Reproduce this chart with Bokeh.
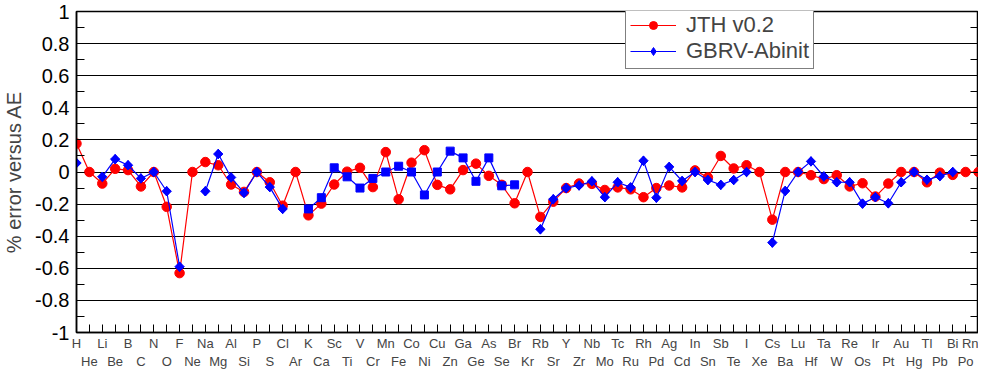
import numpy as np
from bokeh.plotting import figure
from bokeh.models import (Range1d, LinearAxis, FixedTicker, CustomJSTickFormatter,
                          Legend, LegendItem, ColumnDataSource)
from bokeh.embed import file_html
from bokeh.resources import INLINE

nan = float("nan")

elements = ["H", "He", "Li", "Be", "B", "C", "N", "O", "F", "Ne",
            "Na", "Mg", "Al", "Si", "P", "S", "Cl", "Ar",
            "K", "Ca", "Sc", "Ti", "V", "Cr", "Mn", "Fe", "Co", "Ni", "Cu", "Zn",
            "Ga", "Ge", "As", "Se", "Br", "Kr",
            "Rb", "Sr", "Y", "Zr", "Nb", "Mo", "Tc", "Ru", "Rh", "Pd", "Ag", "Cd",
            "In", "Sn", "Sb", "Te", "I", "Xe",
            "Cs", "Ba", "Lu", "Hf", "Ta", "W", "Re", "Os", "Ir", "Pt", "Au", "Hg",
            "Tl", "Pb", "Bi", "Po", "Rn"]

jth_v02 = [0.177, 0.0, -0.072, 0.02, 0.012, -0.09, 0.0, -0.217, -0.63, 0.0,
           0.062, 0.042, -0.078, -0.124, 0.0, -0.064, -0.21, 0.0,
           -0.27, -0.197, -0.078, 0.002, 0.026, -0.094, 0.124, -0.17, 0.058, 0.136, -0.08, -0.108,
           0.012, 0.052, -0.024, -0.08, -0.195, 0.0,
           -0.28, -0.185, -0.1, -0.072, -0.074, -0.112, -0.096, -0.108, -0.157, -0.1, -0.084, -0.096,
           0.01, -0.034, 0.1, 0.022, 0.042, 0.0,
           -0.297, 0.0, 0.0, -0.02, -0.044, -0.02, -0.09, -0.07, -0.153, -0.072, 0.0, 0.0,
           -0.064, -0.004, -0.018, 0.0, 0.0]

gbrv_abinit = [0.056, nan, -0.03, 0.08, 0.042, -0.04, 0.0, -0.12, -0.59, nan,
               -0.12, 0.112, -0.034, -0.13, 0.0, -0.094, -0.23, nan,
               -0.23, -0.16, 0.026, -0.03, -0.1, -0.04, 0.0, 0.036, 0.0, -0.143, 0.0, 0.13,
               0.088, -0.058, 0.088, -0.086, -0.08, nan,
               -0.357, -0.17, -0.1, -0.084, -0.058, -0.157, -0.064, -0.096, 0.07, -0.16, 0.032, -0.056,
               0.0, -0.05, -0.08, -0.05, 0.0, nan,
               -0.44, -0.118, 0.0, 0.066, -0.028, -0.064, -0.064, -0.197, -0.157, -0.195, -0.064, 0.0,
               -0.048, -0.026, 0.0, nan, nan]

# GBRV points drawn with square markers (the rest use diamonds)
gbrv_square_elements = ["K", "Ca", "Sc", "Ti", "V", "Cr", "Mn", "Fe", "Co", "Ni",
                        "Cu", "Zn", "Ga", "Ge", "As", "Se", "Br"]

y_ticks = [-1.0, -0.8, -0.6, -0.4, -0.2, 0.0, 0.2, 0.4, 0.6, 0.8, 1.0]
y_minor = [-0.9, -0.7, -0.5, -0.3, -0.1, 0.1, 0.3, 0.5, 0.7, 0.9]

FONT = "Liberation Sans"

idx = list(range(1, len(elements) + 1))
src_j = ColumnDataSource(dict(x=idx, y=jth_v02))
src_g = ColumnDataSource(dict(x=idx, y=np.array(gbrv_abinit, dtype=float)))
sq = [i for i, e in zip(idx, elements) if e in gbrv_square_elements]
sq_y = [v for v, e in zip(gbrv_abinit, elements) if e in gbrv_square_elements]
dm = [i for i, e, v in zip(idx, elements, gbrv_abinit) if e not in gbrv_square_elements and not np.isnan(v)]
dm_y = [v for e, v in zip(elements, gbrv_abinit) if e not in gbrv_square_elements and not np.isnan(v)]

p = figure(width=978, height=372, output_backend="svg", toolbar_location=None,
           x_range=Range1d(1, len(elements)), y_range=Range1d(-1, 1),
           min_border_left=73, min_border_right=0, min_border_top=11, min_border_bottom=30)
p.background_fill_color = "white"
p.border_fill_color = "white"
p.outline_line_color = "black"
p.outline_line_width = 1.5
p.xgrid.visible = False

yticker = FixedTicker(ticks=y_ticks, minor_ticks=y_minor)
p.ygrid.ticker = yticker
p.ygrid.grid_line_color = "black"
p.ygrid.grid_line_width = 1.2

# y axis
ya = p.yaxis[0]
ya.ticker = yticker
ya.formatter = CustomJSTickFormatter(code="return (Math.round(tick*10)/10).toString();")
ya.major_tick_in = 8
ya.major_tick_out = 0
ya.minor_tick_in = 8
ya.minor_tick_out = 0
ya.axis_line_width = 1.5
ya.major_label_text_font = FONT
ya.major_label_text_font_size = "20px"
ya.major_label_text_color = "black"
ya.major_label_standoff = 7
ya.axis_label = "% error versus AE"
ya.axis_label_text_font = FONT
ya.axis_label_text_font_size = "20px"
ya.axis_label_text_font_style = "normal"
ya.axis_label_standoff = 7

# right axis (ticks only)
ra = LinearAxis(ticker=yticker, major_tick_in=8, major_tick_out=0, minor_tick_in=8,
                minor_tick_out=0, axis_line_width=1.5,
                formatter=CustomJSTickFormatter(code="return '';"),
                major_label_text_font_size="1px",
                major_label_text_color=None, major_label_standoff=0)
p.add_layout(ra, "right")

# x axis: ticks at every element, odd labels on first row, even labels on second row
names_js = "const i = Math.round(tick); return (i % 2 === 1) ? names[i-1] : '\\n' + names[i-1];"
xa = p.xaxis[0]
xa.ticker = FixedTicker(ticks=idx, minor_ticks=[])
xa.formatter = CustomJSTickFormatter(args=dict(names=elements), code=names_js)
xa.major_tick_in = 8
xa.major_tick_out = 0
xa.minor_tick_in = 0
xa.minor_tick_out = 0
xa.axis_line_width = 1.5
xa.major_label_text_font = FONT
xa.major_label_text_font_size = "13px"
xa.major_label_text_line_height = 1.25
xa.major_label_standoff = 3

# JTH series
rl = p.line("x", "y", source=src_j, line_color="#ff0000", line_width=1.2)
rs = p.scatter("x", "y", source=src_j, marker="circle", size=9.5,
               fill_color="#ff0000", line_color="#ff0000")

# GBRV series
bl = p.line("x", "y", source=src_g, line_color="#0000ff", line_width=1.2)
bleg = p.scatter(dm, dm_y, marker="diamond", size=9.5,
                 fill_color="#0000ff", line_color="#0000ff")
bd = p.scatter(dm, dm_y, marker="square", angle=np.pi / 4, size=6.6,
               fill_color="#0000ff", line_color="#0000ff")
bs = p.scatter(sq, sq_y, marker="square", size=8,
               fill_color="#0000ff", line_color="#0000ff")

legend = Legend(items=[LegendItem(label="JTH v0.2", renderers=[rl, rs]),
                       LegendItem(label="GBRV-Abinit", renderers=[bl, bleg])],
                location=(549, 263), padding=4, spacing=0, margin=0,
                glyph_width=46, label_standoff=10,
                label_text_font=FONT, label_text_font_size="22px",
                border_line_color="black", border_line_width=1,
                background_fill_color="white", background_fill_alpha=1.0)
p.add_layout(legend, "center")

open("out.html", "w").write(file_html(p, INLINE))
